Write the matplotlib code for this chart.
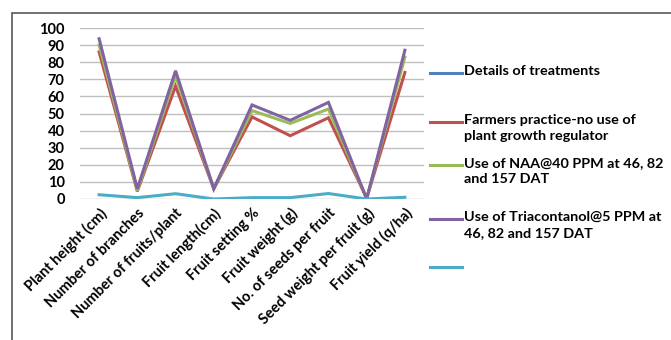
import matplotlib
matplotlib.use("Agg")
from matplotlib import pyplot as plt
from matplotlib.lines import Line2D
from matplotlib.patches import Rectangle
import numpy as np

plt.rcParams['font.family'] = ['Lato', 'DejaVu Sans']
plt.rcParams['font.weight'] = 'bold'

categories = ["Plant height (cm)", "Number of branches", "Number of fruits/plant",
              "Fruit length(cm)", "Fruit setting %", "Fruit weight (g)",
              "No. of seeds per fruit", "Seed weight per fruit (g)", "Fruit yield (q/ha)"]

details = [np.nan] * 9
farmers = [86, 4.5, 66, 6, 48, 37, 47.5, 0.5, 74]
naa = [90, 5, 72, 6, 51.7, 44.2, 52.6, 0.3, 83]
triacontanol = [93.7, 6, 75, 6, 55, 46, 56.5, 0, 87]
extra = [2.5, 0.8, 3.1, 0, 0.8, 0.8, 3.2, 0, 1.0]

series = [
    (details, "#4F81BD", "Details of treatments"),
    (farmers, "#C0504D", "Farmers practice-no use of\nplant growth regulator"),
    (naa, "#9BBB59", "Use of NAA@40 PPM at 46, 82\nand 157 DAT"),
    (triacontanol, "#8064A2", "Use of Triacontanol@5 PPM at\n46, 82 and 157 DAT"),
    (extra, "#4BACC6", ""),
]

W, H = 671, 340
fig = plt.figure(figsize=(W / 100, H / 100), dpi=100)
ax = fig.add_axes([80 / W, 1 - 199 / H, 344 / W, 171 / H])

x = np.arange(len(categories))
for vals, col, lab in series:
    ax.plot(x, vals, color=col, lw=2.2, solid_joinstyle='miter')

ax.set_xlim(-0.5, len(categories) - 0.5)
ax.set_ylim(0, 100)
ax.set_yticks(np.arange(0, 101, 10))
ax.yaxis.grid(True, color="#BFBFBF", lw=1)
ax.set_axisbelow(True)
for s in ax.spines.values():
    s.set_visible(False)
ax.tick_params(length=0, labelsize=10.5)
ax.tick_params(axis='y', pad=11)
ax.tick_params(axis='x', pad=5)
ax.set_xticks(x)
ax.set_xticklabels(categories, rotation=45, ha='right', rotation_mode='anchor', fontsize=10.5)

# legend on the right, handles aligned with the first text line
leg_y = [73, 122, 165, 219, 267]
for (vals, col, lab), yy in zip(series, leg_y):
    fy = 1 - yy / H
    fig.add_artist(Line2D([430 / W, 462 / W], [fy, fy], color=col, lw=2.2,
                          transform=fig.transFigure))
    if lab:
        fig.text(464 / W, fy + 8 / H, lab, fontsize=10.4, fontweight='bold',
                 va='top', ha='left', linespacing=1.4)

# chart frame
fig.add_artist(Rectangle((12 / W, -0.1), 1, 1.1 - 13 / H, fill=False,
                         ec="#595959", lw=1.2, transform=fig.transFigure))

fig.savefig("out.png", dpi=100)
